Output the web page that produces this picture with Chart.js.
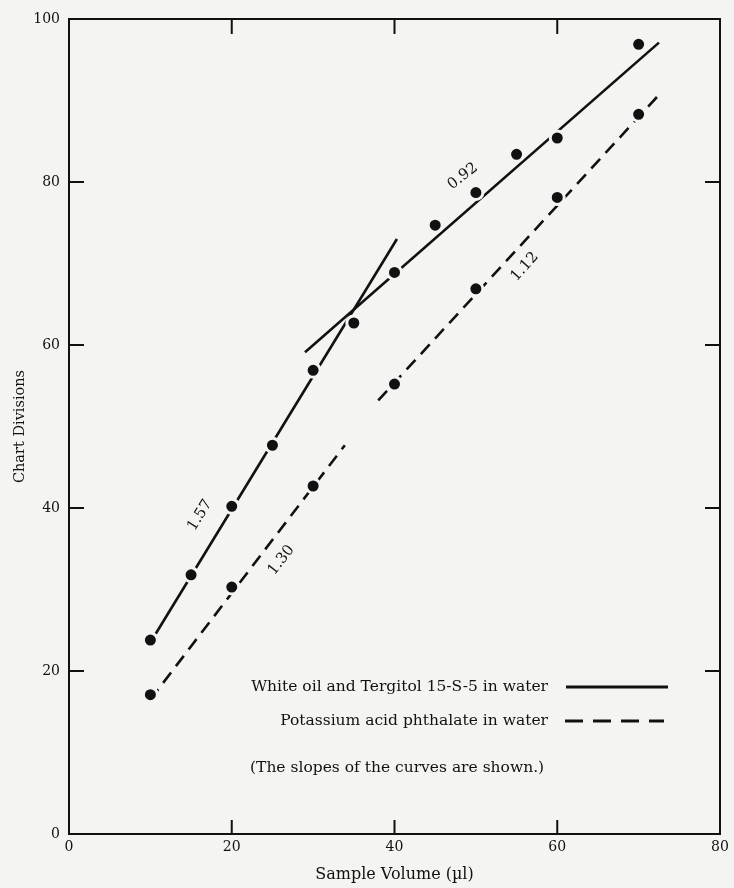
<!DOCTYPE html>
<html>
<head>
<meta charset="utf-8">
<script src="https://cdn.jsdelivr.net/npm/chart.js@4.4.1/dist/chart.umd.min.js"></script>
<style>
  html, body { margin: 0; padding: 0; background: #f4f4f2; }
  #wrap { width: 734px; height: 888px; }
</style>
</head>
<body>
<div id="wrap"><canvas id="chart" width="734" height="888"></canvas></div>
<script>
// Measured points
const oilVolumes = [10, 15, 20, 25, 30, 35, 40, 45, 50, 55, 60, 70];
const oilDivisions = [23.8, 31.8, 40.2, 47.7, 56.9, 62.7, 68.9, 74.7, 78.7, 83.4, 85.4, 96.9];
const kaphVolumes = [10, 20, 30, 40, 50, 60, 70];
const kaphDivisions = [17.1, 30.3, 42.7, 55.2, 66.9, 78.1, 88.3];

// Fitted line segments [x, y] start and end
const oilFitLow = [[10, 23.5], [40.3, 73.0]];
const oilFitHigh = [[29.0, 59.1], [72.5, 97.1]];
const kaphFitLow = [[10, 16.5], [33.9, 47.7]];
const kaphFitHigh = [[38.0, 53.2], [72.5, 90.7]];

// Slope labels: text, x, y, angle (deg)
const slopeLabels = [
    ["1.57", 16.1, 39.1, -58],
    ["1.30", 26.1, 33.6, -52],
    ["0.92", 48.4, 80.7, -38],
    ["1.12", 56.0, 69.6, -48]
];

const xTicks = [0, 20, 40, 60, 80];
const yTicks = [0, 20, 40, 60, 80, 100];

const legendLabels = ["White oil and Tergitol 15-S-5 in water", "Potassium acid phthalate in water"];
const noteText = "(The slopes of the curves are shown.)";

const INK = "#111111";
const BG = "#f4f4f2";
const FONT = "'DejaVu Serif', 'Liberation Serif', serif";

const toXY = (xs, ys) => xs.map((x, i) => ({ x: x, y: ys[i] }));
const seg = (s) => s.map(p => ({ x: p[0], y: p[1] }));

function fitDataset(s, dashed) {
    return {
        type: "line",
        data: seg(s),
        borderColor: INK,
        borderWidth: 2.6,
        borderDash: dashed ? [13, 8] : [],
        pointRadius: 0,
        showLine: true,
        order: 2
    };
}

function pointDataset(d) {
    return {
        type: "scatter",
        data: d,
        backgroundColor: INK,
        borderColor: BG,
        borderWidth: 3,
        pointRadius: 7,
        order: 0
    };
}

// Frame, inward ticks, legend and slope labels
const decorPlugin = {
    id: "decor",
    beforeDraw(chart) {
        const ctx = chart.ctx;
        ctx.save();
        ctx.fillStyle = BG;
        ctx.fillRect(0, 0, chart.width, chart.height);
        ctx.restore();
    },
    afterDatasetsDraw(chart) {
        const ctx = chart.ctx;
        const a = chart.chartArea;
        const xs = chart.scales.x;
        const ys = chart.scales.y;
        ctx.save();
        ctx.strokeStyle = INK;
        ctx.lineWidth = 2;
        ctx.strokeRect(a.left, a.top, a.right - a.left, a.bottom - a.top);

        // inward ticks
        [20, 40, 60].forEach(v => {
            const px = xs.getPixelForValue(v);
            ctx.beginPath();
            ctx.moveTo(px, a.bottom); ctx.lineTo(px, a.bottom - 14);
            ctx.moveTo(px, a.top); ctx.lineTo(px, a.top + 15);
            ctx.stroke();
        });
        [20, 40, 60, 80].forEach(v => {
            const py = ys.getPixelForValue(v);
            ctx.beginPath();
            ctx.moveTo(a.left, py); ctx.lineTo(a.left + 15, py);
            ctx.moveTo(a.right, py); ctx.lineTo(a.right - 15, py);
            ctx.stroke();
        });

        // slope labels
        ctx.fillStyle = INK;
        ctx.font = "15px " + FONT;
        ctx.textAlign = "center";
        ctx.textBaseline = "middle";
        slopeLabels.forEach(l => {
            ctx.save();
            ctx.translate(xs.getPixelForValue(l[1]), ys.getPixelForValue(l[2]));
            ctx.rotate(l[3] * Math.PI / 180);
            ctx.fillText(l[0], 0, 0);
            ctx.restore();
        });

        // legend
        ctx.font = "15.5px " + FONT;
        ctx.textAlign = "right";
        ctx.fillText(legendLabels[0], 548, 687);
        ctx.fillText(legendLabels[1], 548, 721);
        ctx.lineWidth = 3;
        ctx.beginPath();
        ctx.moveTo(566, 687); ctx.lineTo(668, 687);
        ctx.stroke();
        ctx.setLineDash([18, 10]);
        ctx.beginPath();
        ctx.moveTo(565, 721); ctx.lineTo(664, 721);
        ctx.stroke();
        ctx.setLineDash([]);
        ctx.textAlign = "left";
        ctx.fillText(noteText, 250, 768);
        ctx.restore();
    }
};

new Chart(document.getElementById("chart"), {
    type: "scatter",
    data: {
        datasets: [
            pointDataset(toXY(oilVolumes, oilDivisions)),
            pointDataset(toXY(kaphVolumes, kaphDivisions)),
            fitDataset(oilFitLow, false),
            fitDataset(oilFitHigh, false),
            fitDataset(kaphFitLow, true),
            fitDataset(kaphFitHigh, true)
        ]
    },
    options: {
        responsive: false,
        animation: false,
        layout: { padding: { top: 19, right: 14, left: 0, bottom: 0 } },
        plugins: { legend: { display: false }, tooltip: { enabled: false } },
        scales: {
            x: {
                type: "linear", min: 0, max: 80,
                afterBuildTicks: (s) => { s.ticks = xTicks.map(v => ({ value: v })); },
                afterFit: (s) => { s.height = 54; },
                grid: { display: false, drawTicks: false },
                border: { display: false },
                ticks: { color: INK, padding: 5, font: { family: FONT, size: 14 } },
                title: { display: true, text: "Sample Volume (\u00b5l)", color: INK, padding: { top: 0, bottom: 4 }, font: { family: FONT, size: 16 } }
            },
            y: {
                type: "linear", min: 0, max: 100,
                afterBuildTicks: (s) => { s.ticks = yTicks.map(v => ({ value: v })); },
                afterFit: (s) => { s.width = 69; },
                grid: { display: false, drawTicks: false },
                border: { display: false },
                ticks: { color: INK, padding: 9, font: { family: FONT, size: 14 } },
                title: { display: true, text: "Chart Divisions", color: INK, padding: { top: 12, bottom: 0 }, font: { family: FONT, size: 14.5 } }
            }
        }
    },
    plugins: [decorPlugin]
});
</script>
</body>
</html>
